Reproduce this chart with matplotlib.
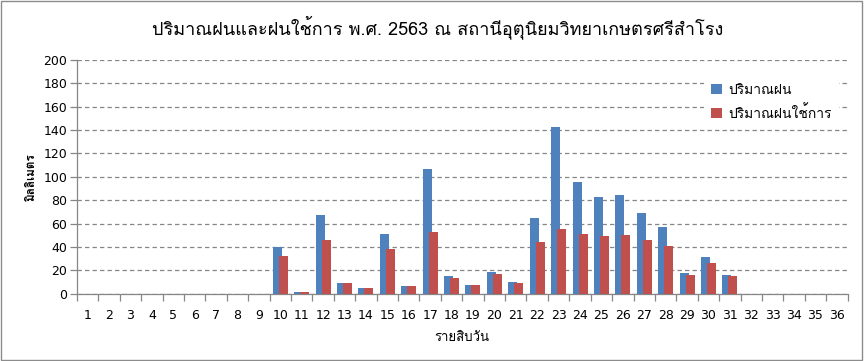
import matplotlib
matplotlib.use("Agg")
import matplotlib.pyplot as plt
import numpy as np
from matplotlib import font_manager as fm
from matplotlib.ft2font import FT2Font
from matplotlib.patches import Rectangle

# ---------------- data ----------------
categories = [str(i) for i in range(1, 37)]
rain = [0, 0, 0, 0, 0, 0, 0, 0, 0, 40.3, 1.3, 67, 9.5, 5.2, 50.7, 7, 106.6, 14.9, 7.1,
        18.6, 10.3, 64.3, 142.3, 95.1, 82.3, 84, 69.4, 56.6, 18, 31.7, 16, 0, 0, 0, 0, 0]
eff_rain = [0, 0, 0, 0, 0, 0, 0, 0, 0, 32.6, 1.2, 45.5, 9.5, 5.2, 38.6, 7, 52.6, 13.1, 7.1,
            17.1, 9.4, 44.6, 55.7, 51.4, 49.7, 50.6, 46.3, 41.1, 16.3, 26.6, 15.1, 0, 0, 0, 0, 0]
series_names = ["ปริมาณฝน", "ปริมาณฝนใช้การ"]
title = "ปริมาณฝนและฝนใช้การ พ.ศ. 2563 ณ สถานีอุตุนิยมวิทยาเกษตรศรีสำโรง"
xlabel = "รายสิบวัน"
ylabel = "มิลลิเมตร"
yticks = list(range(0, 201, 20))

# ---------------- font selection (need Thai glyphs) ----------------
def thai_fonts():
    found = []
    for f in fm.fontManager.ttflist:
        try:
            cmap = FT2Font(f.fname).get_charmap()
        except Exception:
            continue
        if 0x0E1B in cmap and 0x0E33 in cmap and 0x0E19 in cmap:
            if f.name not in found:
                found.append(f.name)
    return found

tf = thai_fonts()
base = "DejaVu Sans"
families = tf[:1] + [base] if tf else [base]
plt.rcParams["font.family"] = families

blue = "#4F81BD"
red = "#C0504D"
axis_gray = "#868686"
num_font = ["DejaVu Sans"]

fig = plt.figure(figsize=(8.64, 3.61), dpi=100)
fig.patch.set_facecolor("white")
# outer chart border
fig.add_artist(Rectangle((0.001, 0.002), 0.997, 0.995, transform=fig.transFigure,
                         fill=False, edgecolor="#8c8c8c", linewidth=1.0))

ax = fig.add_axes([0.0891, 0.1864, 0.8919, 0.6482])
x = np.arange(len(categories))
w = 0.42
off = 0.14
ax.bar(x - off, rain, width=w, color=blue, label=series_names[0], zorder=3)
ax.bar(x + off, eff_rain, width=w, color=red, label=series_names[1], zorder=4)

ax.set_xlim(-0.5, len(categories) - 0.5)
ax.set_ylim(0, 200)
ax.set_yticks(yticks)
ax.set_yticklabels([str(v) for v in yticks], fontsize=9, family=num_font)
ax.yaxis.grid(True, linestyle=(0, (3.5, 2.5)), color=axis_gray, linewidth=0.9, zorder=0)
ax.set_axisbelow(True)

ax.set_xticks(x)
ax.set_xticklabels(categories, fontsize=9, family=num_font)
ax.set_xticks(np.arange(-0.5, len(categories), 1), minor=True)
ax.tick_params(axis="x", which="major", length=0, pad=11)
ax.tick_params(axis="x", which="minor", length=5, color=axis_gray, width=0.9)
ax.tick_params(axis="y", length=5, color=axis_gray, width=0.9, pad=2)

for s in ["top", "right"]:
    ax.spines[s].set_visible(False)
for s in ["left", "bottom"]:
    ax.spines[s].set_color(axis_gray)
    ax.spines[s].set_linewidth(0.9)

ax.set_xlabel(xlabel, fontsize=9.5, labelpad=7)
ax.set_ylabel(ylabel, fontsize=8.5, fontweight="bold", labelpad=5)

fig.text(0.507, 0.925, title, fontsize=13, ha="center", va="center")

leg = ax.legend(loc="upper left", bbox_to_anchor=(0.805, 0.955), frameon=True,
                fontsize=10, handlelength=0.75, handleheight=0.75, handletextpad=0.5,
                labelspacing=0.55, borderpad=0.5)
leg.get_frame().set_edgecolor("none")
leg.get_frame().set_facecolor("white")
leg.get_frame().set_alpha(1.0)

fig.savefig("out.png", dpi=100, facecolor="white")
